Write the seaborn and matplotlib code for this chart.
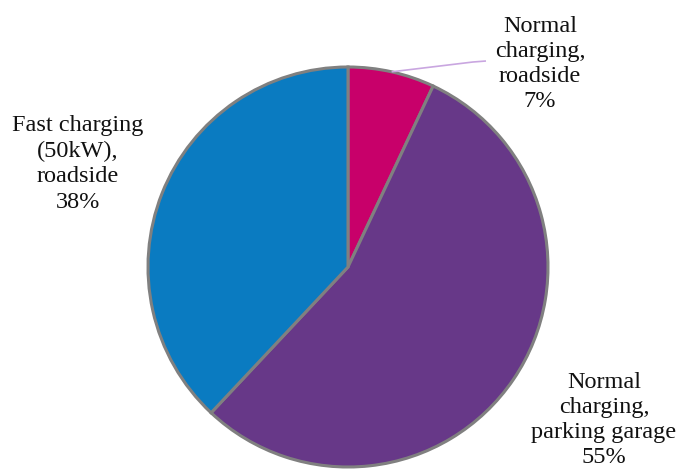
import numpy as np
import matplotlib
matplotlib.use("Agg")
import matplotlib.pyplot as plt
import seaborn as sns

# Charging infrastructure shares
categories = ["Normal\ncharging,\nroadside", "Normal\ncharging,\nparking garage", "Fast charging\n(50kW),\nroadside"]
shares = [7, 55, 38]
colors = ["#C8006A", "#673888", "#0A7BC1"]

sns.set_theme(style="white")
plt.rcParams["font.family"] = ["Liberation Serif", "DejaVu Serif"]

W, H = 679, 472
fig = plt.figure(figsize=(W / 100, H / 100), dpi=100)
ax = fig.add_axes([0, 0, 1, 1])

cx, cy, r = 348, H - 267, 200
wedges, _ = ax.pie(
    shares, colors=colors, startangle=90, counterclock=False,
    center=(cx, cy), radius=r, frame=True,
    wedgeprops=dict(edgecolor="#808080", linewidth=2.2),
)
ax.set_xlim(0, W)
ax.set_ylim(0, H)
ax.set_aspect("equal")
ax.axis("off")

# label text with the percentage on the last line
labels = [f"{c}\n{v}%" for c, v in zip(categories, shares)]
label_pos = [(540, H - 64), (604, H - 420), (78, H - 164)]
for lab, (tx, ty) in zip(labels, label_pos):
    ax.text(tx, ty, lab, ha="center", va="center", fontsize=17.5,
            linespacing=1.27, color="#111111")

# leader line for the small slice
w = wedges[0]
mid = np.deg2rad((w.theta1 + w.theta2) / 2)
px, py = cx + r * np.cos(mid), cy + r * np.sin(mid)
ax.plot([px, 473, 486], [py, H - 62, H - 61], color="#C9A6E0", lw=1.2,
        solid_capstyle="butt", zorder=3)

fig.savefig("out.png", dpi=100)
